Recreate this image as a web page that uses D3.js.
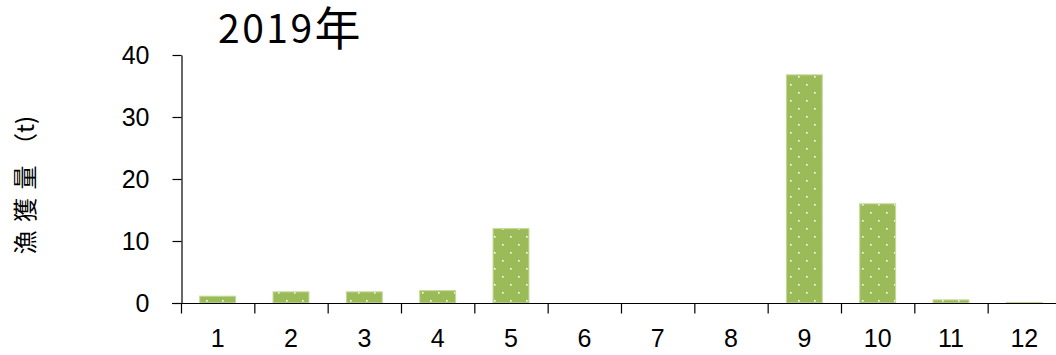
<!DOCTYPE html>
<html>
<head>
<meta charset="utf-8">
<script src="https://cdn.jsdelivr.net/npm/d3@7"></script>
<style>
  html, body { margin: 0; padding: 0; background: #fff; }
  svg { display: block; }
</style>
</head>
<body>
<svg id="chart" width="1056" height="355"></svg>
<script>
const months = ["1","2","3","4","5","6","7","8","9","10","11","12"];
const catch2019 = [1.1, 1.8, 1.8, 2.0, 12.0, 0, 0, 0, 36.8, 16.0, 0.5, 0.1];
const yTicks = [0, 10, 20, 30, 40];
const titleYear = "2019";
const titleSuffix = "年";
const yLabelMain = "漁獲量";
const yLabelUnit = "（t)";

const svg = d3.select("#chart");
const mLeft = 181, mRight = 1061, mTop = 55, mBottom = 303;

const defs = svg.append("defs");
const pat = defs.append("pattern")
  .attr("id", "dots")
  .attr("patternUnits", "userSpaceOnUse")
  .attr("width", 16).attr("height", 16);
pat.append("rect").attr("width", 16).attr("height", 16).attr("fill", "#9BBB59");
pat.append("rect").attr("x", 6).attr("y", 4).attr("width", 1.6).attr("height", 1.6).attr("fill", "#fff");
pat.append("rect").attr("x", 14).attr("y", 12).attr("width", 1.6).attr("height", 1.6).attr("fill", "#fff");

const x = d3.scaleBand().domain(months).range([mLeft, mRight]).paddingInner(0.51).paddingOuter(0.255);
const xTick = d3.scaleBand().domain(months).range([mLeft, mRight]);
const y = d3.scaleLinear().domain([0, 40]).range([mBottom, mTop]);

svg.append("g").selectAll("rect")
  .data(months.map((m, i) => ({m, v: catch2019[i]})))
  .join("rect")
  .attr("x", d => x(d.m))
  .attr("width", x.bandwidth())
  .attr("y", d => y(d.v))
  .attr("height", d => y(0) - y(d.v))
  .attr("fill", "url(#dots)")
  .attr("stroke", d => d.v > 0 ? "#C5DA9A" : "none")
  .attr("stroke-width", 1);

// Y axis
const yAxis = d3.axisLeft(y).tickValues(yTicks).tickSize(9).tickPadding(23).tickSizeOuter(0);
const gy = svg.append("g").attr("transform", `translate(${mLeft + 0.5},0)`).call(yAxis);
gy.select(".domain").attr("stroke", "#000").attr("stroke-width", 1.2);
gy.selectAll(".tick line").attr("stroke", "#000").attr("stroke-width", 1.2);
gy.selectAll("text").attr("font-family", "Liberation Sans, Arial, sans-serif").attr("font-size", 25).attr("fill", "#000");

// X axis
const gx = svg.append("g").attr("transform", `translate(0,${mBottom + 0.5})`);
gx.append("line").attr("x1", mLeft - 9).attr("x2", 1056).attr("y1", 0).attr("y2", 0).attr("stroke", "#000").attr("stroke-width", 1.2);
gx.selectAll("line.tk")
  .data(months)
  .join("line").attr("class", "tk")
  .attr("x1", d => xTick(d) + 0.5).attr("x2", d => xTick(d) + 0.5)
  .attr("y1", 0).attr("y2", 10)
  .attr("stroke", "#000").attr("stroke-width", 1.2);
gx.selectAll("text")
  .data(months)
  .join("text")
  .attr("x", d => xTick(d) + xTick.bandwidth() / 2)
  .attr("y", 43)
  .attr("text-anchor", "middle")
  .attr("font-family", "Liberation Sans, Arial, sans-serif")
  .attr("font-size", 25)
  .attr("fill", "#000")
  .text(d => d);

// Title
const t = svg.append("text")
  .attr("x", 218).attr("y", 43)
  .attr("fill", "#000");
t.append("tspan")
  .attr("font-family", "Noto Sans CJK JP, sans-serif")
  .attr("font-size", 39)
  .style("letter-spacing", "2.5px")
  .text(titleYear);
t.append("tspan")
  .attr("font-family", "Noto Sans CJK JP, sans-serif")
  .attr("font-size", 46)
  .attr("dy", 2)
  .text(titleSuffix);

// Y label
const yl = svg.append("text")
  .attr("transform", "translate(34,254.5) rotate(-90)")
  .attr("text-anchor", "start")
  .attr("font-family", "Noto Sans CJK JP, sans-serif")
  .attr("font-size", 24)
  .attr("fill", "#000");
yl.append("tspan").style("letter-spacing", "8.5px").text(yLabelMain);
yl.append("tspan").text(yLabelUnit);
</script>
</body>
</html>
